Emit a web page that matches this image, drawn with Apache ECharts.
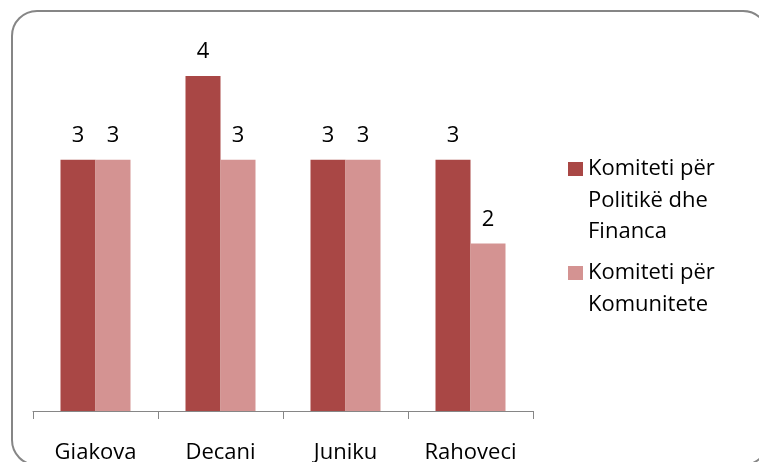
<!DOCTYPE html>
<html>
<head>
<meta charset="utf-8">
<script src="https://cdn.jsdelivr.net/npm/echarts@6/dist/echarts.min.js"></script>
<style>
  html, body { margin: 0; padding: 0; background: #ffffff; }
  #chart { width: 759px; height: 462px; }
</style>
</head>
<body>
<div id="chart"></div>
<script>
const categories = ["Giakova", "Decani", "Juniku", "Rahoveci"];
const seriesNames = ["Komiteti për\nPolitikë dhe\nFinanca", "Komiteti për\nKomunitete"];
const financa = [3, 4, 3, 3];
const komunitete = [3, 3, 3, 2];

const FONT = "'Open Sans', 'Noto Sans', sans-serif";
const FS = 22;
const LH = 31.5;

// the legend centres its text on the icon; blank lines in front keep the icon on the first line
function legendText(name) {
  let n = name.split("\n").length;
  return "\n".repeat(n - 1) + name;
}

let chart = echarts.init(document.getElementById("chart"));
let option = {
  backgroundColor: "#ffffff",
  animation: false,
  textStyle: { fontFamily: FONT },
  graphic: [
    {
      type: "rect",
      shape: { x: 12, y: 11, width: 756, height: 454, r: 25 },
      style: { fill: "none", stroke: "#868686", lineWidth: 2 },
      silent: true
    }
  ],
  grid: { left: 33, right: 226, top: 34, bottom: 51, outerBoundsMode: "none", containLabel: false },
  legend: [
    {
      data: [seriesNames[0]],
      orient: "vertical",
      left: 568,
      top: 169 - 2.5 * LH,
      padding: 0,
      itemWidth: 15,
      itemHeight: 14,
      icon: "rect",
      formatter: legendText,
      textStyle: { fontFamily: FONT, fontSize: FS, color: "#000", lineHeight: LH }
    },
    {
      data: [seriesNames[1]],
      orient: "vertical",
      left: 568,
      top: 273 - 1.5 * LH,
      padding: 0,
      itemWidth: 15,
      itemHeight: 14,
      icon: "rect",
      formatter: legendText,
      textStyle: { fontFamily: FONT, fontSize: FS, color: "#000", lineHeight: LH }
    }
  ],
  xAxis: {
    type: "category",
    data: categories,
    axisLine: { lineStyle: { color: "#868686", width: 1 } },
    axisTick: { show: true, length: 8, lineStyle: { color: "#868686" } },
    axisLabel: { fontFamily: FONT, fontSize: FS, color: "#000", margin: 31 }
  },
  yAxis: {
    type: "value",
    min: 0,
    max: 4.5,
    show: false,
    splitLine: { show: false }
  },
  series: [
    {
      name: seriesNames[0],
      type: "bar",
      data: financa,
      barGap: "0%",
      barCategoryGap: "44%",
      itemStyle: { color: "#A94745" },
      label: { show: true, position: "top", distance: 13, fontFamily: FONT, fontSize: FS, color: "#000" }
    },
    {
      name: seriesNames[1],
      type: "bar",
      data: komunitete,
      itemStyle: { color: "#D49392" },
      label: { show: true, position: "top", distance: 13, fontFamily: FONT, fontSize: FS, color: "#000" }
    }
  ]
};
chart.setOption(option);
</script>
</body>
</html>
